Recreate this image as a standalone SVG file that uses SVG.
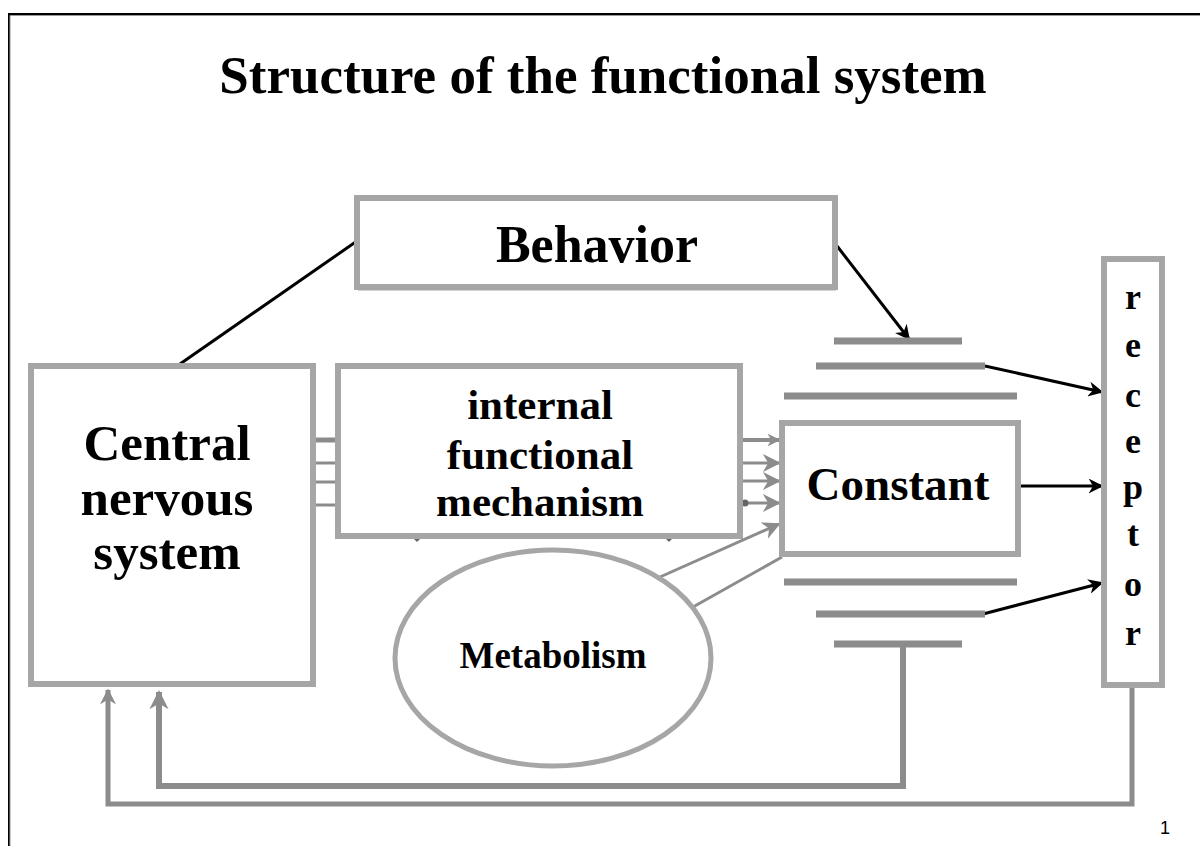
<svg xmlns="http://www.w3.org/2000/svg" width="1200" height="846" viewBox="0 0 1200 846">
<style>
.box{fill:#fff;stroke:#a6a6a6;stroke-width:6}
.bar{stroke:#8c8c8c;stroke-width:7;fill:none}
.t{font-family:"Liberation Serif",serif;font-weight:bold;fill:#000;text-anchor:middle}
.blk{stroke:#000;stroke-width:3;fill:none}
.gl{stroke:#8c8c8c;fill:none}
</style>
<defs>
<marker id="ab" viewBox="0 0 10 10" refX="9" refY="5" markerWidth="5" markerHeight="5" orient="auto" markerUnits="strokeWidth"><path d="M0,0 L10,5 L0,10 L3,5 z" fill="#000"/></marker>
<marker id="ag" viewBox="0 0 10 10" refX="9" refY="5" markerWidth="6" markerHeight="6" orient="auto" markerUnits="strokeWidth"><path d="M0,0 L10,5 L0,10 L3,5 z" fill="#8c8c8c"/></marker>
<marker id="ag2" viewBox="0 0 10 10" refX="9" refY="5" markerWidth="3.2" markerHeight="3.2" orient="auto" markerUnits="strokeWidth"><path d="M0,0 L10,5 L0,10 L3,5 z" fill="#8c8c8c"/></marker>
</defs>
<rect width="1200" height="846" fill="#fff"/>
<path d="M9,846 V14 H1200" stroke="#000" stroke-width="2" fill="none"/>
<path d="M10,846 V15.5 H1200" stroke="#999" stroke-width="1" fill="none"/>
<text x="603" y="93" class="t" font-size="53">Structure of the functional system</text>

<g id="connectors">
<line x1="357" y1="241" x2="180" y2="364" class="blk"/>
<line x1="837" y1="246" x2="909" y2="339" class="blk" marker-end="url(#ab)"/>
<line x1="985" y1="366" x2="1102" y2="392" class="blk" marker-end="url(#ab)"/>
<line x1="1020" y1="486" x2="1102" y2="486" class="blk" marker-end="url(#ab)"/>
<line x1="983" y1="614" x2="1102" y2="583" class="blk" stroke-width="4" marker-end="url(#ab)"/>
<g class="gl" stroke-width="4">
<line x1="313" y1="440" x2="338" y2="440" stroke-width="5"/>
<line x1="313" y1="463" x2="338" y2="463" stroke-width="3"/>
<line x1="313" y1="482" x2="338" y2="482" stroke-width="3"/>
<line x1="313" y1="505" x2="338" y2="505" stroke-width="3"/>
</g>
<g class="gl" stroke-width="3">
<line x1="741" y1="440" x2="779" y2="440" stroke-width="4" marker-end="url(#ag2)"/>
<line x1="741" y1="463" x2="779" y2="463" marker-end="url(#ag)"/>
<line x1="741" y1="481" x2="779" y2="481" marker-end="url(#ag)"/>
<line x1="745" y1="503" x2="779" y2="503" marker-end="url(#ag)"/>
<line x1="660" y1="577" x2="779" y2="524" marker-end="url(#ag)"/>
<line x1="693" y1="607" x2="782" y2="557"/>
</g>
<circle cx="745" cy="503" r="3.5" fill="#666"/>
<path d="M413,538 L421,538 L417,542 z" fill="#666"/>
<path d="M665,538 L673,538 L669,542 z" fill="#666"/>
<path d="M903,644 V786 H159 V692" class="gl" stroke-width="6" marker-end="url(#ag2)"/>
<path d="M1132,685 V804 H108 V690" class="gl" stroke-width="5" marker-end="url(#ag2)"/>
</g>

<g id="bars">
<line x1="834" y1="341" x2="962" y2="341" class="bar"/>
<line x1="816" y1="366" x2="985" y2="366" class="bar"/>
<line x1="784" y1="396" x2="1017" y2="396" class="bar"/>
<line x1="784" y1="582" x2="1017" y2="582" class="bar"/>
<line x1="816" y1="614" x2="985" y2="614" class="bar"/>
<line x1="834" y1="644" x2="962" y2="644" class="bar"/>
</g>

<g id="behavior">
<line x1="358" y1="289.5" x2="836" y2="289.5" stroke="#555" stroke-width="1.5"/>
<rect x="357" y="198" width="478" height="89" class="box"/>
<text x="597" y="262" class="t" font-size="52">Behavior</text>
</g>

<g id="cns">
<rect x="31" y="366" width="282" height="318" class="box"/>
<text class="t" font-size="51"><tspan x="167" y="460">Central</tspan><tspan x="167" y="515">nervous</tspan><tspan x="167" y="569">system</tspan></text>
</g>

<g id="mechanism">
<rect x="338" y="366" width="402" height="170" class="box"/>
<text class="t" font-size="43"><tspan x="540" y="419">internal</tspan><tspan x="540" y="469">functional</tspan><tspan x="540" y="516">mechanism</tspan></text>
</g>

<g id="constant">
<rect x="782" y="423" width="236" height="131" class="box"/>
<text x="898" y="500" class="t" font-size="47">Constant</text>
</g>

<g id="receptor">
<rect x="1104" y="259" width="58" height="426" class="box"/>
<text class="t" font-size="36"><tspan x="1133" y="309">r</tspan><tspan x="1133" y="357">e</tspan><tspan x="1133" y="407">c</tspan><tspan x="1133" y="453">e</tspan><tspan x="1133" y="499">p</tspan><tspan x="1133" y="546">t</tspan><tspan x="1133" y="596">o</tspan><tspan x="1133" y="645">r</tspan></text>
</g>

<g id="metabolism">
<ellipse cx="553" cy="658" rx="158" ry="108" fill="#fff" stroke="#a6a6a6" stroke-width="5"/>
<text x="553" y="668" class="t" font-size="37">Metabolism</text>
</g>

<text x="1165" y="834" font-family="Liberation Sans,sans-serif" font-size="18" text-anchor="middle">1</text>
</svg>
